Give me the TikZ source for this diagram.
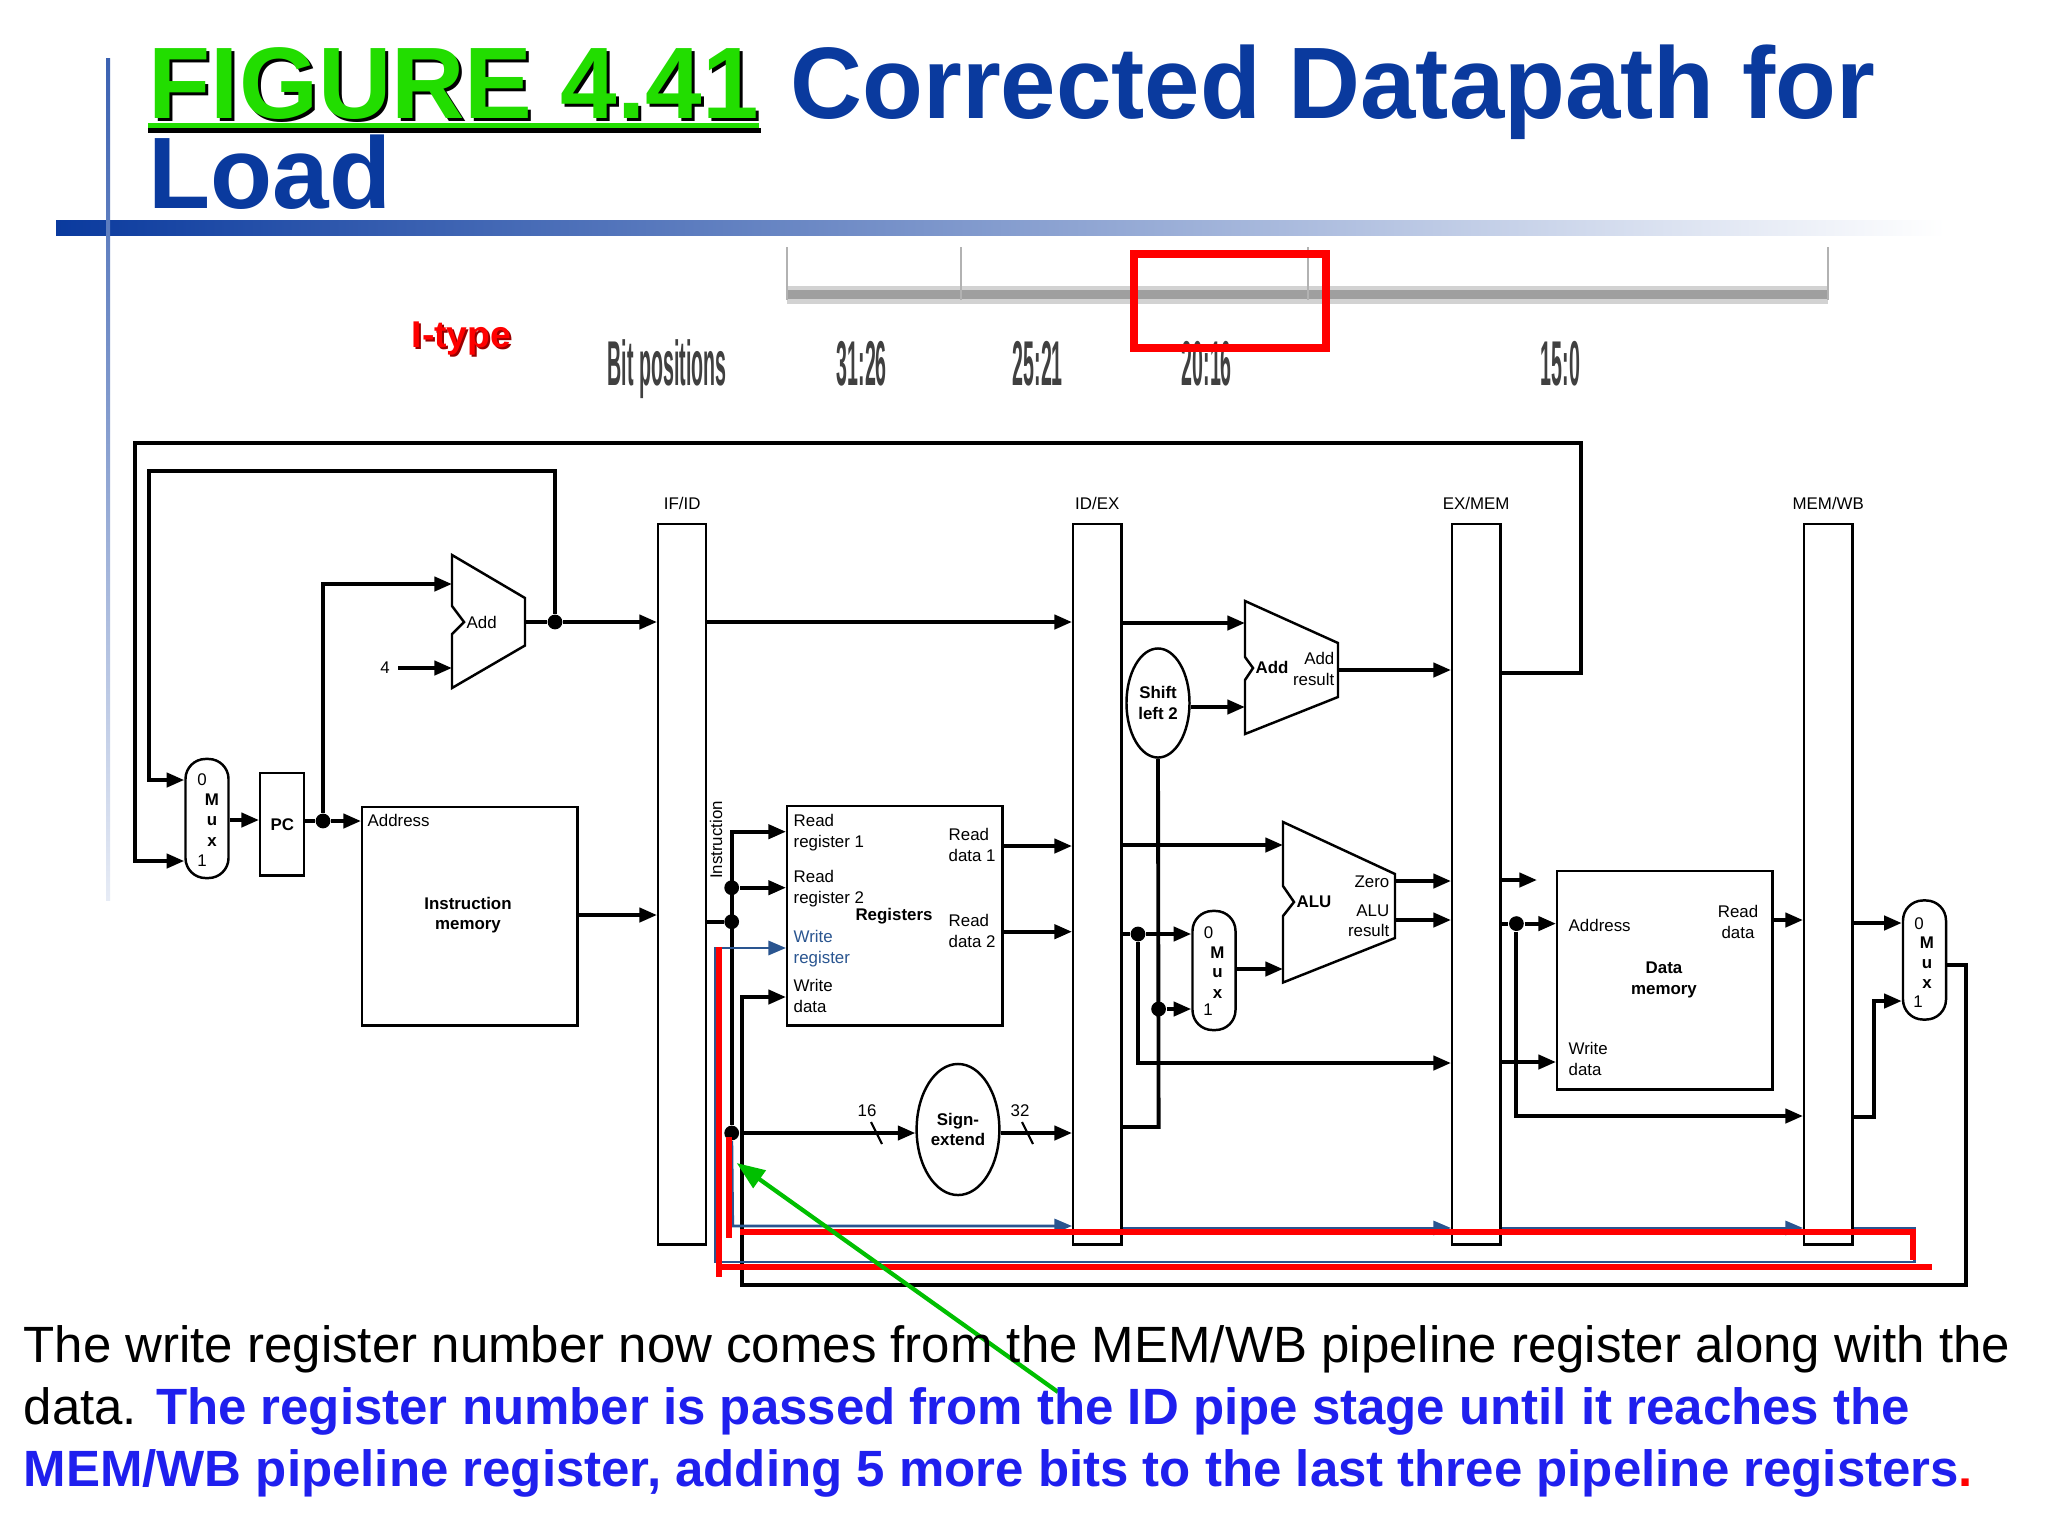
\documentclass[tikz,border=0pt]{standalone}
\usepackage{fontspec}
\setmainfont{Liberation Sans}
\usetikzlibrary{arrows.meta,shapes.geometric,calc}
\definecolor{tblue}{HTML}{0A3A9E}
\definecolor{tgreen}{HTML}{22DD00}
\definecolor{bblue}{HTML}{1F1FEE}
\definecolor{wblue}{HTML}{2A5590}
\begin{document}
\begin{tikzpicture}[x=0.01cm,y=-0.01cm,
 wire/.style={line width=1.1pt},
 arr/.style={wire,-{Triangle[length=5pt,width=4pt]}},
 barr/.style={line width=0.8pt,wblue,-{Triangle[length=5pt,width=4pt]}},
 bw/.style={line width=0.8pt,wblue},
 redl/.style={line width=1.5pt,red},
 box/.style={draw,line width=0.7pt,inner sep=0},
 preg/.style={box,minimum width=0.48cm,minimum height=7.2cm,anchor=north west},
 muxs/.style={draw,line width=0.7pt,rounded corners=0.2cm,minimum width=0.43cm,minimum height=1.19cm,inner sep=0},
 lbl/.style={font=\fontsize{4.8}{5.8}\selectfont,inner sep=0,align=left},
 blbl/.style={font=\fontsize{4.8}{5.8}\selectfont\bfseries,inner sep=0,align=center},
 dot/.style={circle,fill,inner sep=0,minimum size=4.2pt},
]
\useasboundingbox[fill=white] (0,0) rectangle (2048,1536);
% title decoration
\shade[left color=tblue,right color=white] (56,220) rectangle (1945,235);
\shade[top color=tblue!80,bottom color=tblue!10] (106,58) rectangle (110,900);
\node[anchor=base west,inner sep=0,font=\fontsize{28.9}{30}\bfseries] (figs) at (151,121) {FIGURE 4.41};
\node[anchor=base west,inner sep=0,font=\fontsize{28.9}{30}\bfseries,text=tgreen] (fig) at (148,118) {FIGURE 4.41};
\fill[black] (148,128) rectangle (761,133);
\fill[tgreen] (148,123) rectangle (759,128);
\node[anchor=base west,inner sep=0,font=\fontsize{28.9}{30}\bfseries,text=tblue] (ttl) at (790,118) {\scalebox{0.98}[1]{Corrected Datapath for}};
\node[anchor=base west,inner sep=0,font=\fontsize{28.9}{30}\bfseries,text=tblue] (load) at (148,208) {Load};
% table
\fill[gray!35] (787,286) rectangle (1828,304);
\fill[gray!75] (787,290) rectangle (1828,299);
\foreach \xx in {787,961,1308,1828} \draw[gray!60,line width=0.5pt] (\xx,247) -- (\xx,300);
\node[anchor=base west,inner sep=0,font=\fontsize{10.6}{11}\bfseries,text=red!60!black] (its) at (413,349) {I-type};
\node[anchor=base west,inner sep=0,font=\fontsize{10.6}{11}\bfseries,text=red] (ityp) at (411,347) {I-type};
\foreach \xx/\tt in {607/Bit positions,836/31:26,1012/25:21,1181/20:16,1540/15:0}
  \node[anchor=base west,inner sep=0,font=\fontsize{9}{9}\bfseries,text=black!75] at (\xx,385) {\scalebox{0.62}[2]{\tt}};
\draw[red,line width=2.4pt] (1134,254) rectangle (1326,348);
% pipeline registers
\node[preg] (ifid) at (657,523) {};
\node[preg] (idex) at (1072,523) {};
\node[preg] (exmem) at (1451,523) {};
\node[preg] (memwb) at (1803,523) {};
\node[lbl,anchor=south] at (ifid.north) [yshift=3.5pt] {IF/ID};
\node[lbl,anchor=south] at (idex.north) [yshift=3.5pt] {ID/EX};
\node[lbl,anchor=south] at (exmem.north) [yshift=3.5pt] {EX/MEM};
\node[lbl,anchor=south] at (memwb.north) [yshift=3.5pt] {MEM/WB};
% IF stage
\node[muxs] (mux0) at (207,818.5) {};
\node[lbl] at (202,780) {0};
\node[blbl] at (212,800) {M};
\node[blbl] at (212,821) {u};
\node[blbl] at (212,842) {x};
\node[lbl] at (202,861) {1};
\node[box,minimum width=0.44cm,minimum height=1.02cm,anchor=north west] (pc) at (259,772) {};
\node[blbl] at (pc.center) {PC};
\node[box,minimum width=2.15cm,minimum height=2.18cm,anchor=north west] (im) at (361,806) {};
\node[lbl,anchor=west] at (367,820) {Address};
\node[blbl] at (468,915) {Instruction\\memory};
\draw[line width=0.7pt] (452,555) coordinate (a1tl) -- (525,598) -- (525,645.5) -- (452,688) -- (452,634) -- (464,622) -- (452,606) -- cycle;
\coordinate (a1out) at (525,622);
\node[lbl,anchor=west] at (466,622) {Add};
\node[lbl] (four) at (385,668) {4};
\draw[arr] (four.east) ++(8,0) -- (452,668);
\node[dot] (d1) at (555,622) {};
\draw[wire] (a1out) -- (d1);
\draw[arr] (d1) -- (ifid.west |- d1);
\draw[arr] (d1) -- (555,471) -- (149,471) -- (149,780) -- (mux0.west |- 0,780);
\draw[arr] (exmem.east |- 0,673) -- (1581,673) -- (1581,443) -- (135,443) -- (135,861) -- (mux0.west |- 0,861);
\draw[arr] (mux0.east |- 0,820) -- (pc.west |- 0,820);
\node[dot] (d2) at (323,821) {};
\draw[wire] (pc.east |- d2) -- (d2);
\draw[arr] (d2) -- (im.west |- d2);
\draw[arr] (d2) -- (323,584) -- (452,584);
\draw[arr] (im.east |- 0,915) -- (ifid.west |- 0,915);
% ID stage
\draw[arr] (ifid.east |- 0,622) -- (idex.west |- 0,622);
\node[box,minimum width=2.15cm,minimum height=2.19cm,anchor=north west] (regs) at (786,805) {};
\node[lbl,anchor=north west] at (793,814) {Read\\register 1};
\node[lbl,anchor=north west] at (793,870) {Read\\register 2};
\node[lbl,anchor=north west,text=wblue] at (793,930) {Write\\register};
\node[lbl,anchor=north west] at (793,979) {Write\\data};
\node[lbl,anchor=north west] at (948,828) {Read\\data 1};
\node[lbl,anchor=north west] at (948,914) {Read\\data 2};
\node[blbl] at (894,916) {Registers};
\node[lbl,rotate=90] at (716,840) {Instruction};
\node[dot] (d3) at (731.7,921.7) {};
\node[dot] (d4) at (731.7,887.7) {};
\node[dot] (d5) at (731.7,1133) {};
\draw[wire] (ifid.east |- d3) -- (d3);
\draw[arr] (d5) -- (731.7,831.7) -- (regs.west |- 0,831.7);
\draw[arr] (d4) -- (regs.west |- d4);
\node[draw,ellipse,line width=0.7pt,minimum width=0.827cm,minimum height=1.31cm,inner sep=0] (sext) at (958,1129.5) {};
\node[blbl] at (sext.center) {Sign-\\extend};
\draw[arr] (d5) -- (sext.west |- d5);
\draw[line width=0.6pt] (871,1122) -- (882,1144);
\node[lbl] at (867,1111) {16};
\draw[arr] (sext.east |- 0,1133) -- (idex.west |- 0,1133);
\draw[line width=0.6pt] (1022,1122) -- (1033,1144);
\node[lbl] at (1020,1111) {32};
\draw[arr] (regs.east |- 0,846) -- (idex.west |- 0,846);
\draw[arr] (regs.east |- 0,931.7) -- (idex.west |- 0,931.7);
% EX stage
\node[draw,ellipse,line width=0.7pt,minimum width=0.63cm,minimum height=1.09cm,inner sep=0] (shl) at (1158,703) {};
\node[blbl] at (shl.center) {Shift\\left 2};
\draw[line width=0.7pt] (1245,601) -- (1338,643) -- (1338,697) -- (1245,734) -- (1245,680) -- (1253,668) -- (1245,657) -- cycle;
\node[blbl,anchor=west] at (1255,667) {Add};
\node[lbl,align=right,anchor=east] at (1335,669) {Add\\result};
\draw[arr] (idex.east |- 0,623) -- (1245,623);
\draw[arr] (shl.east |- 0,707) -- (1245,707);
\draw[arr] (1338,670) -- (exmem.west |- 0,670);
\draw[line width=0.7pt] (1283,822) -- (1395,874) -- (1395,938) -- (1283,982.5) -- (1283,916) -- (1294,902) -- (1283,886) -- cycle;
\node[blbl,anchor=west] at (1296,902) {ALU};
\node[lbl,anchor=east] at (1390,882) {Zero};
\node[lbl,align=right,anchor=east] at (1390,921) {ALU\\result};
\node[muxs] (mux1) at (1214,970.5) {};
\node[lbl] at (1208.6,933) {0};
\node[blbl] at (1217.5,953) {M};
\node[blbl] at (1217.5,973.6) {u};
\node[blbl] at (1217.5,994) {x};
\node[lbl] at (1208,1010) {1};
\draw[arr] (idex.east |- 0,845) -- (1283,845);
\node[dot] (d6) at (1138,934) {};
\draw[wire] (idex.east |- d6) -- (d6);
\draw[arr] (d6) -- (mux1.west |- d6);
\draw[arr] (d6) -- (1138,1063) -- (exmem.west |- 0,1063);
\node[dot] (d7) at (1158.6,1009) {};
\draw[wire] (idex.east |- 0,1127) -- (1158.6,1127) -- (shl.south);
\draw[arr] (d7) -- (mux1.west |- d7);
\draw[arr] (mux1.east |- 0,969) -- (1283,969);
\draw[arr] (1395,881) -- (exmem.west |- 0,881);
\draw[arr] (1395,920) -- (exmem.west |- 0,920);
% MEM stage
\node[box,minimum width=2.15cm,minimum height=2.18cm,anchor=north west] (dm) at (1556,870) {};
\node[lbl,anchor=west] at (1568,925) {Address};
\node[lbl,align=center] at (1738,922) {Read\\data};
\node[blbl] at (1664,980) {Data\\memory};
\node[lbl,anchor=north west] at (1568,1042) {Write\\data};
\draw[arr] (exmem.east |- 0,880) -- (1537,880);
\node[dot] (d8) at (1516.4,923.6) {};
\draw[wire] (exmem.east |- d8) -- (d8);
\draw[arr] (d8) -- (dm.west |- d8);
\draw[arr] (d8) -- (1516.4,1116) -- (memwb.west |- 0,1116);
\draw[arr] (exmem.east |- 0,1062) -- (dm.west |- 0,1062);
\draw[arr] (dm.east |- 0,920) -- (memwb.west |- 0,920);
% WB stage
\node[muxs] (mux2) at (1924.5,960) {};
\node[lbl] at (1919,924) {0};
\node[blbl] at (1927,943) {M};
\node[blbl] at (1927,964) {u};
\node[blbl] at (1927,984) {x};
\node[lbl] at (1918,1002) {1};
\draw[arr] (memwb.east |- 0,923) -- (mux2.west |- 0,923);
\draw[arr] (memwb.east |- 0,1117) -- (1874,1117) -- (1874,1001) -- (mux2.west |- 0,1001);
\draw[arr] (mux2.east |- 0,965) -- (1966,965) -- (1966,1285) -- (741.7,1285) -- (741.7,997) -- (regs.west |- 0,997);
% write register path (blue)
\draw[barr] (d5) -- (732.7,1226) -- (idex.west |- 0,1226);
\draw[barr] (idex.east |- 0,1228) -- (exmem.west |- 0,1228);
\draw[barr] (exmem.east |- 0,1228) -- (memwb.west |- 0,1228);
\draw[barr] (memwb.east |- 0,1228) -- (1914.5,1228) -- (1914.5,1262) -- (715,1262) -- (715,948) -- (regs.west |- 0,948);
% red highlights
\draw[redl] (719,947) -- (719,1277);
\draw[redl] (719,1267) -- (1932,1267);
\draw[redl] (729,1137) -- (729,1238);
\draw[redl] (740,1232) -- (1913,1232) -- (1913,1260);
% green pointer
\draw[line width=1.2pt,green!75!black,-{Triangle[length=8pt,width=6pt]}] (1058,1392) -- (736.7,1163);
% body text
\node[anchor=base west,inner sep=0,font=\fontsize{14.5}{16}\selectfont] (t1) at (23,1362) {The write register number now comes from the MEM/WB pipeline register along with the};
\node[anchor=base west,inner sep=0,font=\fontsize{14.5}{16}\selectfont] (t2) at (23,1424) {data. \textcolor{bblue}{\bfseries The register number is passed from the ID pipe stage until it reaches the}};
\node[anchor=base west,inner sep=0,font=\fontsize{14.5}{16}\bfseries,text=bblue] (t3) at (23,1486) {MEM/WB pipeline register, adding 5 more bits to the last three pipeline registers\textcolor{red}{.}};
\end{tikzpicture}
\end{document}
